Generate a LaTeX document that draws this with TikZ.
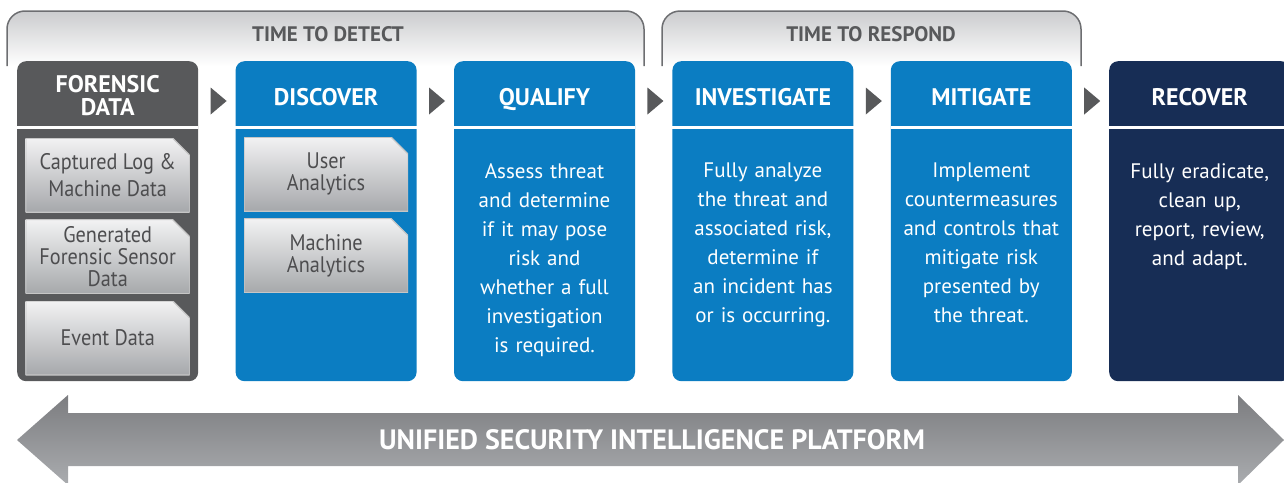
\documentclass[tikz,border=0pt]{standalone}
\usepackage{fontspec}
\setmainfont{PT Sans}
\newfontfamily\chipfont{PT Sans}[FakeStretch=0.9]
\usepackage{tikz}
\usetikzlibrary{positioning, calc, shapes.geometric}

\definecolor{forensicgray}{HTML}{58595B}
\definecolor{stageblue}{HTML}{0B7DC2}
\definecolor{recovernavy}{HTML}{172D55}
\definecolor{chiptext}{HTML}{4D4D4F}
\definecolor{chiptop}{HTML}{F2F2F3}
\definecolor{chipbottom}{HTML}{A6A8AB}
\definecolor{bracketline}{HTML}{6D6E71}
\definecolor{bracketfill}{HTML}{CBCCCE}
\definecolor{arrowtop}{HTML}{7C7D80}
\definecolor{arrowbottom}{HTML}{AAACAF}

\begin{document}
\begin{tikzpicture}[x=1pt, y=-1pt, node distance=37pt]
    % Define styles
    \tikzstyle{stage} = [rectangle, rounded corners=9pt, minimum width=181pt, minimum height=320pt, inner sep=0pt]
    \tikzstyle{heading} = [text=white, font=\bfseries\fontsize{24}{23}\selectfont, align=center, inner sep=0pt]
    \tikzstyle{body} = [text=white, text width=178pt, align=center, font=\fontsize{21}{29}\selectfont, inner sep=0pt, anchor=north]
    \tikzstyle{chip} = [minimum width=164pt, minimum height=74pt, inner sep=0pt, text=chiptext, align=center,
        font=\chipfont\fontsize{22.5}{22}\selectfont,
        path picture={\shadedraw[top color=chiptop, bottom color=chipbottom, draw=gray!45, line width=1.2pt]
            (path picture bounding box.south west) -- (path picture bounding box.north west)
            -- ([xshift=-17pt]path picture bounding box.north east)
            -- ([yshift=-17pt]path picture bounding box.north east)
            -- (path picture bounding box.south east) -- cycle;}]
    \tikzstyle{pointer} = [isosceles triangle, isosceles triangle stretches, fill=forensicgray, inner sep=0pt, minimum width=27pt, minimum height=16pt]
    \tikzstyle{phase} = [text=forensicgray, font=\bfseries\fontsize{21}{21}\selectfont, inner sep=0pt]
    \tikzstyle{bracket} = [top color=bracketfill, bottom color=white, draw=bracketline, line width=1.5pt, rounded corners=18pt]

    \useasboundingbox (0,0) rectangle (1284,482);
    \clip (0,0) rectangle (1284,482);

    % Phases
    \shadedraw [bracket] (7,66) -- (7,11) -- (644,11) -- (644,66);
    \shadedraw [bracket] (662,66) -- (662,11) -- (1081,11) -- (1081,66);
    \node [phase] (detect) at (328,34) {TIME TO DETECT};
    \node [phase] (respond) at (871,34) {TIME TO RESPOND};

    % Stages
    \node [stage, fill=forensicgray, anchor=north west] (forensic) at (17,61) {};
    \node [stage, fill=stageblue, right=of forensic] (discover) {};
    \node [stage, fill=stageblue, right=of discover] (qualify) {};
    \node [stage, fill=stageblue, right=of qualify] (investigate) {};
    \node [stage, fill=stageblue, right=of investigate] (mitigate) {};
    \node [stage, fill=recovernavy, right=of mitigate] (recover) {};

    \foreach \s in {forensic, discover, qualify, investigate, mitigate, recover}
        \draw [white, line width=3pt] ([yshift=-66.5pt]\s.north west) -- ([yshift=-66.5pt]\s.north east);

    % Headings
    \node [heading] (forensic-title) at ([yshift=-35pt]forensic.north) {FORENSIC\\DATA};
    \node [heading, anchor=base] (discover-title) at ([yshift=-44pt]discover.north) {DISCOVER};
    \node [heading, anchor=base] (qualify-title) at ([yshift=-44pt]qualify.north) {QUALIFY};
    \node [heading, anchor=base] (investigate-title) at ([yshift=-44pt]investigate.north) {INVESTIGATE};
    \node [heading, anchor=base] (mitigate-title) at ([yshift=-44pt]mitigate.north) {MITIGATE};
    \node [heading, anchor=base] (recover-title) at ([yshift=-44pt]recover.north) {RECOVER};

    % Data chips
    \node [chip, anchor=north, font=\chipfont\fontsize{22.5}{27}\selectfont] (captured) at ([yshift=-77pt]forensic.north) {Captured Log \&\\Machine Data};
    \node [chip, below=7pt of captured] (sensor) {Generated\\Forensic Sensor\\Data};
    \node [chip, below=7pt of sensor] (event) {Event Data};
    \node [chip, anchor=north] (user) at ([yshift=-76pt]discover.north) {User\\Analytics};
    \node [chip, below=7pt of user] (machine) {Machine\\Analytics};

    % Descriptions
    \node [body] (qualify-text) at ([yshift=-102pt]qualify.north) {Assess threat\\and determine\\if it may pose\\risk and\\whether a full\\investigation\\is required.};
    \node [body] (investigate-text) at ([yshift=-102pt]investigate.north) {Fully analyze\\the threat and\\associated risk,\\determine if\\an incident has\\or is occurring.};
    \node [body] (mitigate-text) at ([yshift=-102pt]mitigate.north) {Implement\\countermeasures\\and controls that\\mitigate risk\\presented by\\the threat.};
    \node [body] (recover-text) at ([yshift=-102pt]recover.north) {Fully eradicate,\\clean up,\\report, review,\\and adapt.};

    % Pointers
    \foreach \a/\b in {forensic/discover, discover/qualify, qualify/investigate, investigate/mitigate, mitigate/recover}
        \node [pointer] (\a-to-\b) at ($(\a.north east)!0.5!(\b.north west) + (0,40)$) {};

    % Platform
    \shade [top color=arrowtop, bottom color=arrowbottom] (17,440) -- (68,395) -- (68,413) -- (1238,413) -- (1238,395) -- (1284,440)
        -- (1238,485) -- (1238,466) -- (68,466) -- (68,485) -- cycle;
    \node [text=white, font=\bfseries\fontsize{28}{28}\selectfont, inner sep=0pt] (platform) at (652,440) {UNIFIED SECURITY INTELLIGENCE PLATFORM};
\end{tikzpicture}
\end{document}
